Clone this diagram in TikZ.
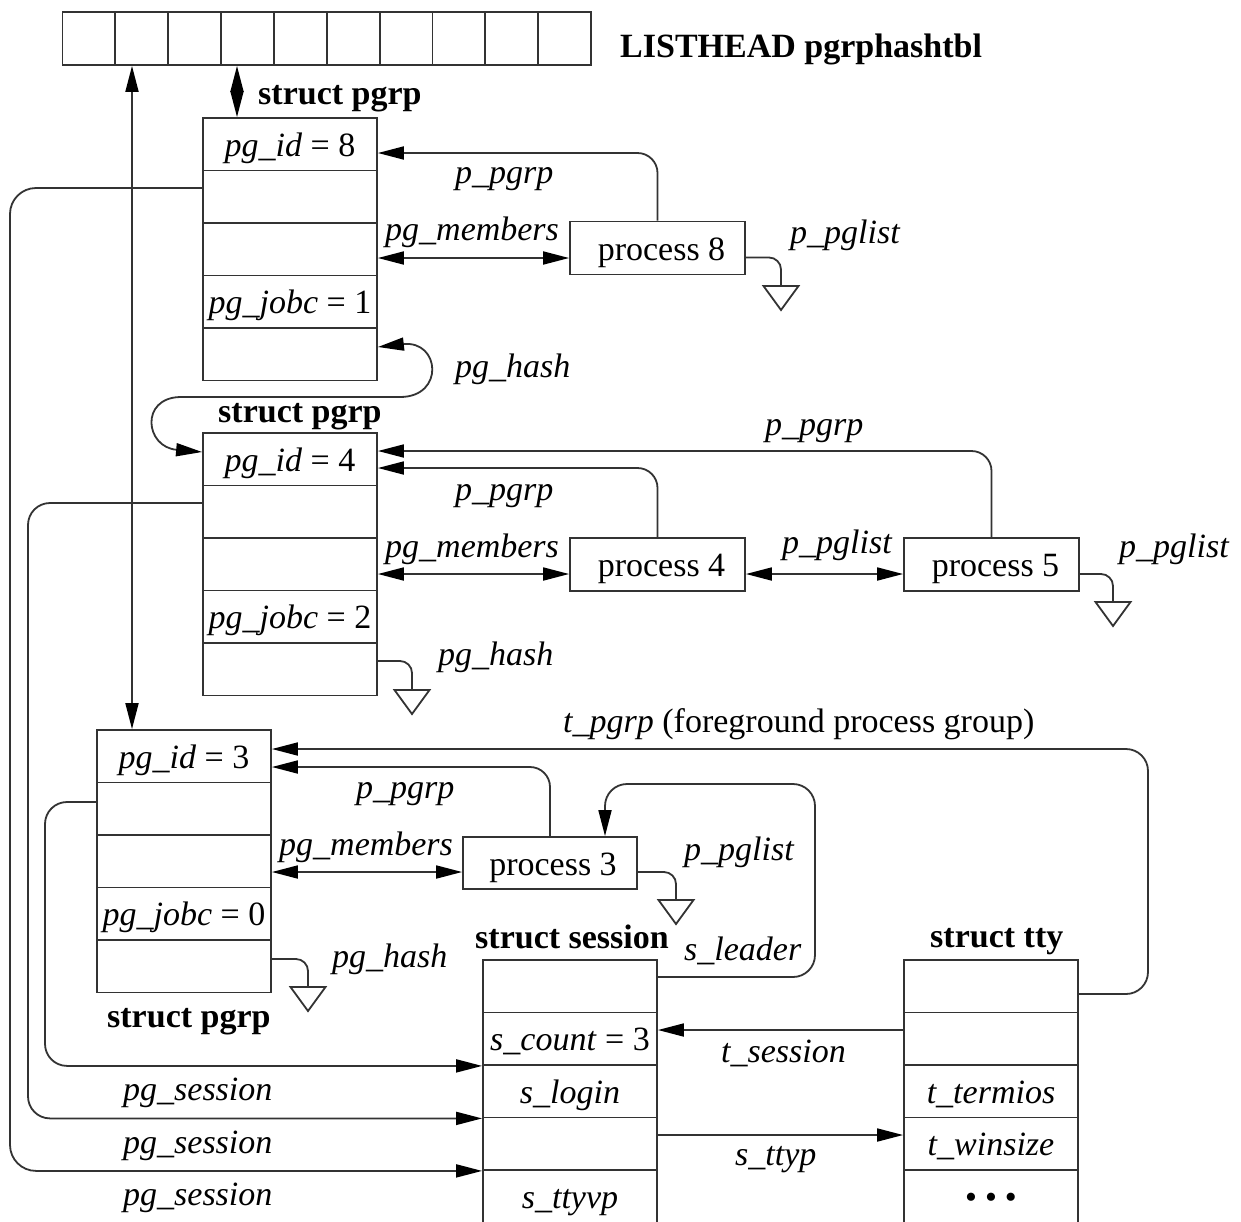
\documentclass[tikz,border=0pt]{standalone}
\usepackage{fontspec}
\setmainfont{Liberation Serif}
\usetikzlibrary{arrows.meta}
\newcommand\fsz{\fontsize{34}{40}\selectfont}
\newcommand\gndsym[1]{\draw[ln] (#1) ++(-17.5,0) -- ++(35,0) -- ++(-17.5,24) -- cycle;}
\begin{document}
\begin{tikzpicture}[x=1pt,y=-1pt,
  ln/.style={draw=black!80,line width=1.8pt},
  arr/.style={ln,-{Triangle[length=26pt,width=13pt,color=black]}},
  dbl/.style={ln,{Triangle[length=26pt,width=13pt,color=black]}-{Triangle[length=26pt,width=13pt,color=black]}},
  cell/.style={ln,minimum width=52.85pt,minimum height=53pt,inner sep=0pt},
  fld/.style={ln,minimum width=174pt,minimum height=52.5pt,inner sep=0pt,text height=24pt,text depth=0pt,font=\fsz\itshape},
  proc/.style={ln,minimum width=175pt,minimum height=53pt,inner sep=0pt,text height=24pt,text depth=0pt,font=\fsz},
  lab/.style={font=\fsz\itshape,inner sep=0pt,anchor=base west},
  bl/.style={font=\fsz\bfseries,inner sep=0pt,anchor=base west},
  rc/.style={rounded corners=20pt}]
\useasboundingbox (0,0) rectangle (1241,1221);
\fill[white] (0,0) rectangle (1241,1221);

% hash table
\foreach \i in {1,...,10} \node[cell] (h\i) at ({62.5+52.85*(\i-0.5)},38.5) {};
\node[bl] (lhead) at (620,57) {LISTHEAD pgrphashtbl};

% pgrp 8
\node[fld] (p8r1) at (290,144.25) {pg\_id \textup{= 8}};
\node[fld] (p8r2) at (290,196.75) {};
\node[fld] (p8r3) at (290,249.25) {};
\node[fld] (p8r4) at (290,301.75) {pg\_jobc \textup{= 1}};
\node[fld] (p8r5) at (290,354.25) {};
\node[bl] (sp8) at (258,104) {struct pgrp};

% pgrp 4
\node[fld] (p4r1) at (290,459.25) {pg\_id \textup{= 4}};
\node[fld] (p4r2) at (290,511.75) {};
\node[fld] (p4r3) at (290,564.25) {};
\node[fld] (p4r4) at (290,616.75) {pg\_jobc \textup{= 2}};
\node[fld] (p4r5) at (290,669.25) {};
\node[bl] (sp4) at (218,422) {struct pgrp};

% pgrp 3
\node[fld] (p3r1) at (184,756.25) {pg\_id \textup{= 3}};
\node[fld] (p3r2) at (184,808.75) {};
\node[fld] (p3r3) at (184,861.25) {};
\node[fld] (p3r4) at (184,913.75) {pg\_jobc \textup{= 0}};
\node[fld] (p3r5) at (184,966.25) {};
\node[bl] (sp3) at (107,1027) {struct pgrp};

% session
\node[fld] (s1) at (570,986.25) {};
\node[fld] (s2) at (570,1038.75) {s\_count \textup{= 3}};
\node[fld] (s3) at (570,1091.25) {s\_login};
\node[fld] (s4) at (570,1143.75) {};
\node[fld] (s5) at (570,1196.25) {s\_ttyvp};
\node[bl] (ssess) at (475,948) {struct session};

% tty
\node[fld] (t1) at (991,986.25) {};
\node[fld] (t2) at (991,1038.75) {};
\node[fld] (t3) at (991,1091.25) {t\_termios};
\node[fld] (t4) at (991,1143.75) {t\_winsize};
\node[fld,font=\fsz] (t5) at (991,1196.25) {\textbullet\hspace{8pt}\textbullet\hspace{8pt}\textbullet};
\node[bl] (stty) at (930,947) {struct tty};

% processes
\node[proc] (pr8) at (657.5,248) {\hspace{8pt}process 8};
\node[proc] (pr4) at (657.5,564.5) {\hspace{8pt}process 4};
\node[proc] (pr5) at (991.5,564.5) {\hspace{8pt}process 5};
\node[proc,minimum width=174pt,minimum height=52pt] (pr3) at (550,863) {\hspace{6pt}process 3};

% helper coordinates
\coordinate (hx) at (132,0);
\coordinate (dx) at (237,0);
\coordinate (g8) at (781,286);
\coordinate (g5) at (1113,602);
\coordinate (g3) at (676,900);
\coordinate (gh4) at (412,690);
\coordinate (gh3) at (308,987);
\coordinate (tpc) at (1148,749);
\coordinate (slc) at (815,784);
\coordinate (c8) at (10,600);
\coordinate (c4) at (28,800);
\coordinate (c3) at (45,900);

% hash table links
\draw[dbl] (h2.south -| hx) -- (p3r1.north -| hx);
\draw[dbl] (h4.south -| dx) -- (p8r1.north -| dx);

% pgrp 8 links
\draw[arr,rc] (pr8.north) |- ([yshift=-8.75pt]p8r1.east);
\draw[dbl] ([yshift=-8.75pt]p8r3.east) -- ([yshift=-8.75pt]p8r3.east -| pr8.west);
\draw[ln,rounded corners=12pt] ([yshift=-9.5pt]pr8.east) -| (g8);
\gndsym{g8}
\draw[dbl] ([yshift=7.25pt]p8r5.east) .. controls (440,340) and (445,397) .. (400,397)
  -- (180,397) .. controls (140,398) and (145,447) .. ([yshift=7.25pt]p4r1.west);

% pgrp 4 links
\draw[arr,rc] (pr5.north) |- ([yshift=8.25pt]p4r1.east);
\draw[arr,rc] (pr4.north) |- ([yshift=-8.75pt]p4r1.east);
\draw[dbl] ([yshift=-9.75pt]p4r3.east) -- ([yshift=-9.75pt]p4r3.east -| pr4.west);
\draw[dbl] ([yshift=-9.75pt]p4r3.east -| pr4.east) -- ([yshift=-9.75pt]p4r3.east -| pr5.west);
\draw[ln,rounded corners=12pt] ([yshift=-9.75pt]p4r3.east -| pr5.east) -| (g5);
\gndsym{g5}
\draw[ln,rounded corners=12pt] ([yshift=8.25pt]p4r5.east) -| (gh4);
\gndsym{gh4}

% pgrp 3 links
\draw[arr,rounded corners=22pt] ([yshift=-7.75pt]t1.east) -| (tpc) -- (tpc -| p3r1.east);
\draw[arr,rc] (pr3.north) |- ([yshift=-10.75pt]p3r1.east);
\draw[dbl] ([yshift=-10.75pt]p3r3.east) -- ([yshift=-10.75pt]p3r3.east -| pr3.west);
\draw[ln,rounded corners=12pt] ([yshift=-10.75pt]p3r3.east -| pr3.east) -| (g3);
\gndsym{g3}
\draw[ln,rounded corners=12pt] ([yshift=7.25pt]p3r5.east) -| (gh3);
\gndsym{gh3}
\draw[arr,rounded corners=22pt] ([yshift=9.25pt]s1.east) -| (slc) -| ([xshift=55pt]pr3.north);

% pg_session links
\draw[arr,rounded corners=26pt] ([yshift=8.75pt]p8r2.west) -| (c8) |- (s4.south west);
\draw[arr,rounded corners=22pt] ([yshift=8.75pt]p4r2.west) -| (c4) |- (s3.south west);
\draw[arr,rounded corners=22pt] ([yshift=6.75pt]p3r2.west) -| (c3) |- (s2.south west);

% session <-> tty
\draw[arr] ([yshift=8.75pt]t2.west) -- ([yshift=8.75pt]t2.west -| s2.east);
\draw[arr] ([yshift=8.75pt]s4.east) -- ([yshift=8.75pt]s4.east -| t4.west);

% labels
\node[lab] (l1) at (455,183) {p\_pgrp};
\node[lab] (l2) at (385,240) {pg\_members};
\node[lab] (l3) at (790,243) {p\_pglist};
\node[lab] (l4) at (455,377) {pg\_hash};
\node[lab] (l5) at (765,435) {p\_pgrp};
\node[lab] (l6) at (455,500) {p\_pgrp};
\node[lab] (l7) at (385,557) {pg\_members};
\node[lab] (l8) at (782,553) {p\_pglist};
\node[lab] (l9) at (1119,557) {p\_pglist};
\node[lab] (l10) at (438,665) {pg\_hash};
\node[lab] (l11) at (563,732) {t\_pgrp\upshape{} (foreground process group)};
\node[lab] (l12) at (356,798) {p\_pgrp};
\node[lab] (l13) at (279,855) {pg\_members};
\node[lab] (l14) at (684,860) {p\_pglist};
\node[lab] (l15) at (332,967) {pg\_hash};
\node[lab] (l16) at (684,960) {s\_leader};
\node[lab] (l17) at (721,1062) {t\_session};
\node[lab] (l18) at (735,1165) {s\_ttyp};
\node[lab] (l19) at (123,1100) {pg\_session};
\node[lab] (l20) at (123,1153) {pg\_session};
\node[lab] (l21) at (123,1205) {pg\_session};
\end{tikzpicture}
\end{document}
